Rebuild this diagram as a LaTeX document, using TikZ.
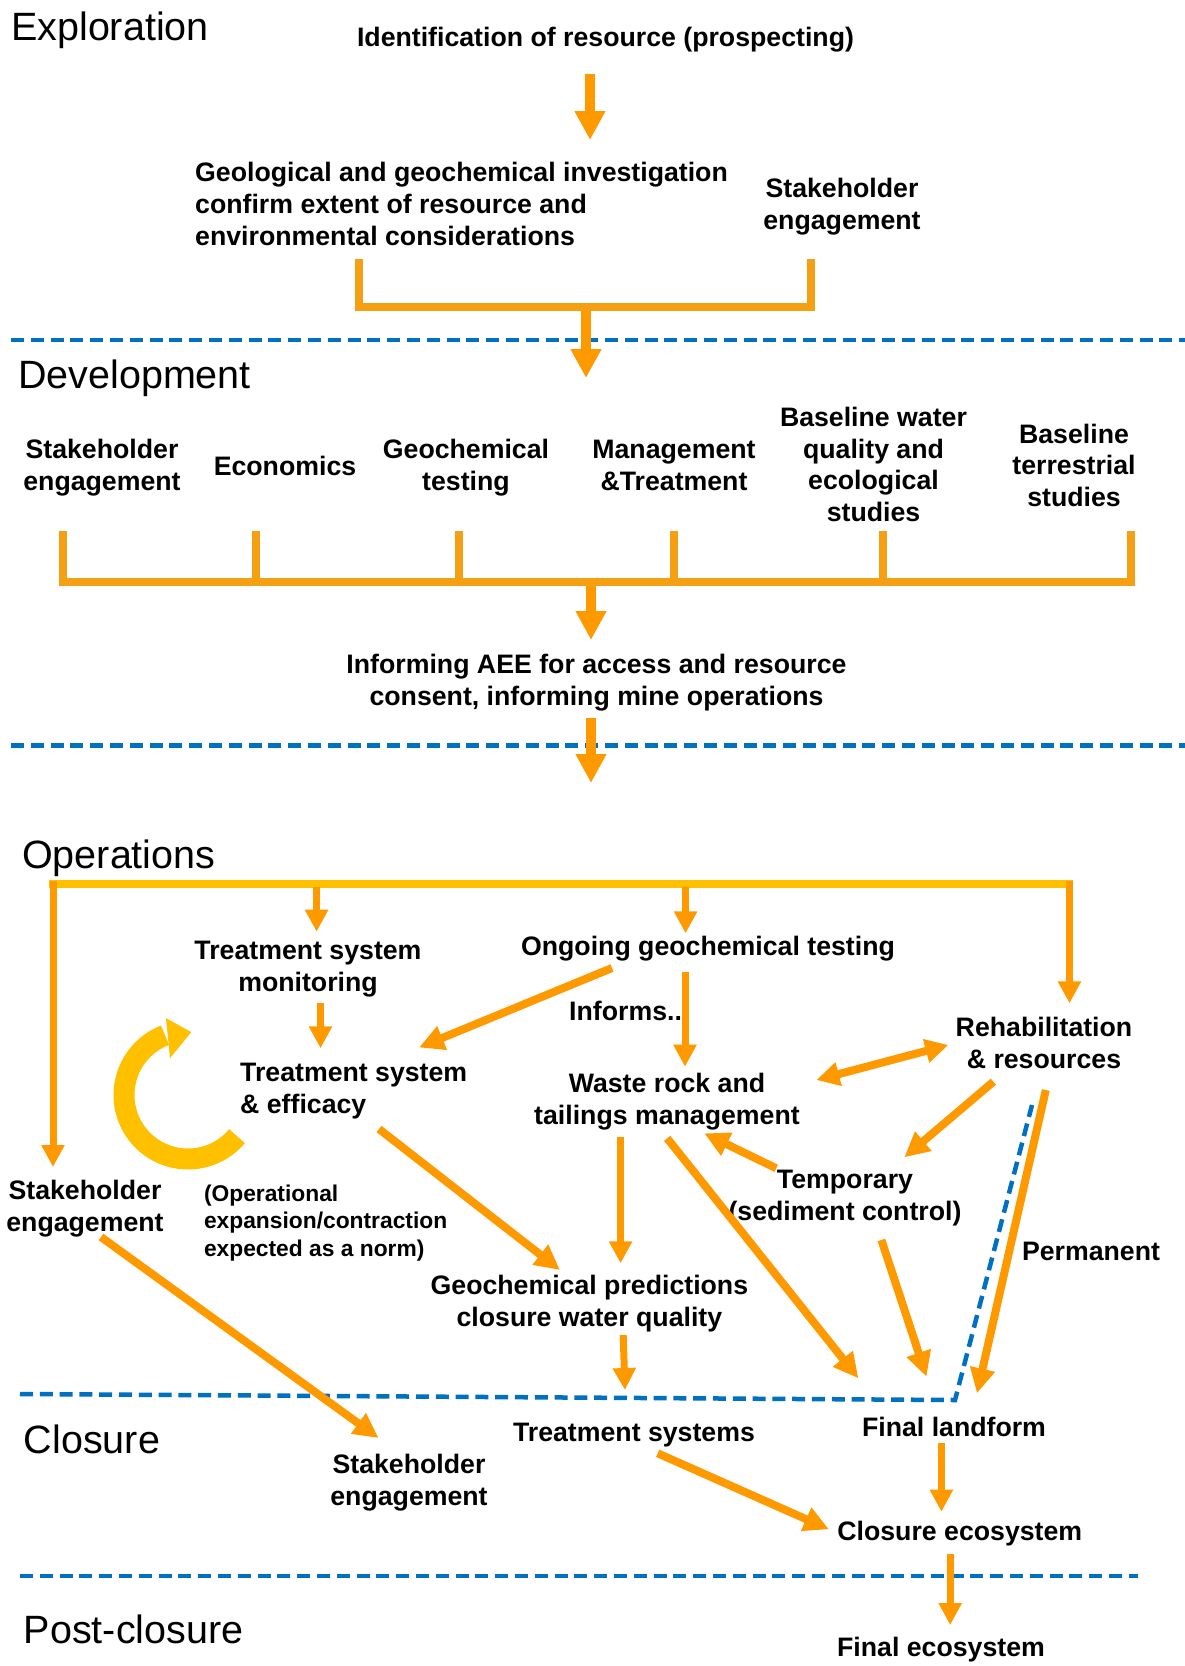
\documentclass[tikz,border=0pt]{standalone}
\usepackage{fontspec}
\setmainfont{Liberation Sans}
\usetikzlibrary{arrows.meta}
\definecolor{arr}{HTML}{FF9900}
\definecolor{barc}{HTML}{F4A012}
\definecolor{ylw}{HTML}{FFC000}
\definecolor{dashblue}{HTML}{0070C0}
\begin{document}
\begin{tikzpicture}[x=1pt,y=-1pt,
  lbl/.style={font=\bfseries\fontsize{26.7}{31.8}\selectfont, inner sep=0pt, align=center, anchor=base},
  lbll/.style={font=\bfseries\fontsize{26.7}{31.8}\selectfont, inner sep=0pt, align=left, anchor=base west},
  small/.style={font=\bfseries\fontsize{22.8}{27.5}\selectfont, inner sep=0pt, align=left, anchor=base west},
  phase/.style={font=\fontsize{39.5}{44}\selectfont, inner sep=0pt, anchor=base west},
  bigarrow/.style={draw=arr, line width=9.5pt, -{Triangle[length=29pt,width=29pt]}},
  oparrow/.style={draw=arr, line width=7pt, -{Triangle[length=22pt,width=22pt]}},
  diag/.style={draw=arr, line width=8pt, -{Triangle[length=25pt,width=24pt]}},
  dbl/.style={draw=arr, line width=8pt, {Triangle[length=23pt,width=23pt]}-{Triangle[length=23pt,width=23pt]}},
  bar/.style={draw=barc, line width=8.5pt, line join=miter},
  sep/.style={draw=dashblue, line width=4.5pt, dash pattern=on 13pt off 6.8pt},
]
\useasboundingbox (0,0) rectangle (1185,1666);

% ---------- separators ----------
\coordinate (s1a) at (11,340);   \coordinate (s1b) at (1185,340);
\coordinate (s2a) at (11,745.7); \coordinate (s2b) at (1185,745.7);
\coordinate (s3a) at (20,1394);  \coordinate (s3b) at (955,1400); \coordinate (s3c) at (1032,1105);
\coordinate (s4a) at (20,1576);  \coordinate (s4b) at (1138,1576);
\draw[sep] (s1a) -- (s1b);
\draw[sep] (s2a) -- (s2b);
\draw[sep] (s3a) -- (s3b) -- (s3c);
\draw[sep] (s4a) -- (s4b);

% ---------- phase labels ----------
\node[phase] (pExp) at (11,40.7) {Exploration};
\node[phase] (pDev) at (18,388) {Development};
\node[phase] (pOps) at (22,868) {Operations};
\node[phase] (pClo) at (23.7,1453.3) {Closure};
\node[phase] (pPost) at (23.7,1643.3) {Post-closure};

% ---------- Exploration ----------
\node[lbl] (ident) at (605.5,46.7) {Identification of resource (prospecting)};
\node[lbll] (geo) at (195,245) {Geological and geochemical investigation\\confirm extent of resource and\\environmental considerations};
\node[lbl] (estake) at (842,229) {Stakeholder\\engagement};
\coordinate (a1s) at (590,74); \coordinate (a1e) at (590,140);
\draw[bigarrow] (a1s) -- (a1e);
\coordinate (b1a) at (359,259); \coordinate (b1b) at (359,307);
\coordinate (b1c) at (811,307); \coordinate (b1d) at (811,259);
\draw[bar] (b1a) -- (b1b) -- (b1c) -- (b1d);
\coordinate (a2s) at (586,311); \coordinate (a2e) at (586,378);
\draw[bigarrow] (a2s) -- (a2e);

% ---------- Development ----------
\node[lbl] (dstake) at (102,490) {Stakeholder\\engagement};
\node[lbl] (decon) at (285,475) {Economics};
\node[lbl] (dgeo) at (466,490) {Geochemical\\testing};
\node[lbl] (dmgmt) at (674,490) {Management\\\&Treatment};
\node[lbl] (dbw) at (873.5,521.7) {Baseline water\\quality and\\ecological\\studies};
\node[lbl] (dbt) at (1074,506.7) {Baseline\\terrestrial\\studies};
\coordinate (t1) at (63,531);  \coordinate (t1b) at (63,582);
\coordinate (t6) at (1131,531); \coordinate (t6b) at (1131,582);
\draw[bar] (t1) -- (t1b) -- (t6b) -- (t6);
\foreach \tx/\nm in {256/t2,459/t3,674/t4,883/t5}{
  \coordinate (\nm) at (\tx,531); \coordinate (\nm b) at (\tx,582);
  \draw[bar] (\nm) -- (\nm b);
}
\coordinate (a3s) at (591,586); \coordinate (a3e) at (591,640);
\draw[bigarrow] (a3s) -- (a3e);
\node[lbl] (aee) at (596.5,705) {Informing AEE for access and resource\\consent, informing mine operations};
\coordinate (a4s) at (591,718); \coordinate (a4e) at (591,783);
\draw[bigarrow] (a4s) -- (a4e);

% ---------- Operations ----------
\coordinate (ybl) at (49,884); \coordinate (ybr) at (1073,884);
\draw[ylw, line width=8.5pt] (ybl) -- (ybr);
\coordinate (oL1) at (53,881);     \coordinate (oL2) at (53,1167);
\coordinate (oM1) at (316.6,887);  \coordinate (oM2) at (316.6,931.7);
\coordinate (oG1) at (685.6,887);  \coordinate (oG2) at (685.6,933.3);
\coordinate (oR1) at (1069.5,881); \coordinate (oR2) at (1069.5,1003.3);
\draw[oparrow] (oL1) -- (oL2);
\draw[oparrow] (oM1) -- (oM2);
\draw[oparrow] (oG1) -- (oG2);
\draw[oparrow] (oR1) -- (oR2);

\node[lbl] (mon) at (308,991.7) {Treatment system\\monitoring};
\node[lbll] (eff) at (240,1113.3) {Treatment system\\\& efficacy};
\node[lbl] (ongo) at (708,955) {Ongoing geochemical testing};
\node[lbll] (inf) at (569,1020) {Informs..};
\node[lbl] (rehab) at (1044,1068.3) {Rehabilitation\\\& resources};
\node[lbl] (waste) at (667,1124) {Waste rock and\\tailings management};
\node[lbl] (temp) at (845,1220) {Temporary\\(sediment control)};
\node[lbl] (perm) at (1091,1260) {Permanent};
\node[lbl] (ostake) at (85,1231.7) {Stakeholder\\engagement};
\node[small] (note) at (203.8,1256) {(Operational\\expansion/contraction\\expected as a norm)};
\node[lbl] (pred) at (589.4,1326.7) {Geochemical predictions\\closure water quality};

% cycle arrow
\draw[ylw, line width=21pt] plot[domain=40:249, samples=70] ({188+64*cos(\x)},{1095+64*sin(\x)});
\fill[ylw] ({188+41*cos(244)},{1095+41*sin(244)}) -- ({188+80*cos(254)},{1095+80*sin(254)}) -- ({188+63*cos(273)},{1095+63*sin(273)}) -- cycle;

\coordinate (me1) at (320.5,1003);  \coordinate (me2) at (320.5,1048.3);
\draw[oparrow] (me1) -- (me2);
\coordinate (ge1) at (612,968);     \coordinate (ge2) at (419,1047.5);
\draw[diag] (ge1) -- (ge2);
\coordinate (gw1) at (685,971.7);   \coordinate (gw2) at (685,1066.7);
\draw[oparrow] (gw1) -- (gw2);
\coordinate (wr1) at (816.4,1080);  \coordinate (wr2) at (948.3,1045);
\draw[dbl] (wr1) -- (wr2);
\coordinate (rt1) at (993.4,1081.7); \coordinate (rt2) at (904.3,1157.3);
\draw[diag] (rt1) -- (rt2);
\coordinate (tw1) at (776.2,1168.3); \coordinate (tw2) at (704.3,1133.3);
\draw[diag] (tw1) -- (tw2);
\coordinate (wp1) at (620.6,1136.7); \coordinate (wp2) at (620.6,1263.3);
\draw[oparrow] (wp1) -- (wp2);
\coordinate (wf1) at (667.2,1138.3); \coordinate (wf2) at (858.4,1378.3);
\draw[diag] (wf1) -- (wf2);
\coordinate (tf1) at (881.4,1240);   \coordinate (tf2) at (926.5,1376.7);
\draw[diag] (tf1) -- (tf2);
\coordinate (pf1) at (1045.8,1090);  \coordinate (pf2) at (977,1393.3);
\draw[diag] (pf1) -- (pf2);
\coordinate (ep1) at (379,1129);     \coordinate (ep2) at (560,1270);
\draw[diag] (ep1) -- (ep2);
\coordinate (ss1) at (101,1237);     \coordinate (ss2) at (378.6,1438);
\draw[diag] (ss1) -- (ss2);
\coordinate (pt1) at (623.2,1335);   \coordinate (pt2) at (625,1390);
\draw[oparrow] (pt1) -- (pt2);

% ---------- Closure ----------
\node[lbl] (tsys) at (634,1441.7) {Treatment systems};
\node[lbl] (cstake) at (409,1505) {Stakeholder\\engagement};
\node[lbl] (fland) at (954,1436.7) {Final landform};
\node[lbl] (ceco) at (959.8,1540) {Closure ecosystem};
\coordinate (fc1) at (941.4,1442.7); \coordinate (fc2) at (941.4,1511.7);
\draw[oparrow] (fc1) -- (fc2);
\coordinate (tc1) at (657.7,1453.3); \coordinate (tc2) at (829,1529.3);
\draw[diag] (tc1) -- (tc2);

% ---------- Post-closure ----------
\node[lbl] (feco) at (941,1656.7) {Final ecosystem};
\coordinate (cf1) at (950.2,1554.3); \coordinate (cf2) at (950.2,1625);
\draw[oparrow] (cf1) -- (cf2);
\end{tikzpicture}
\end{document}
